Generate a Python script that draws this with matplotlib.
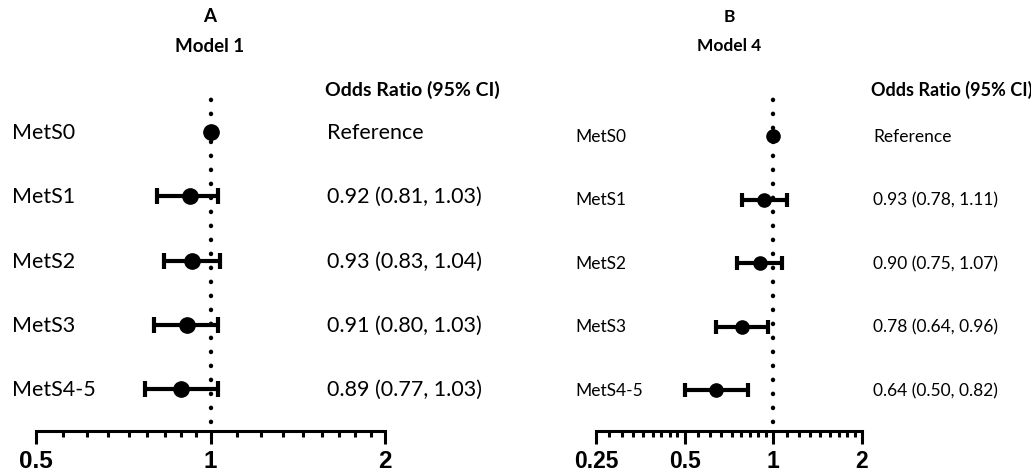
import matplotlib
matplotlib.use("Agg")
import matplotlib.pyplot as plt
import matplotlib.transforms as mtransforms
from matplotlib.ticker import FixedLocator, FixedFormatter, NullFormatter

# ---------------- data ----------------
categories = ["MetS0", "MetS1", "MetS2", "MetS3", "MetS4-5"]

or_a = [1.00, 0.92, 0.93, 0.91, 0.89]
lo_a = [None, 0.81, 0.83, 0.80, 0.77]
hi_a = [None, 1.03, 1.04, 1.03, 1.03]
text_a = ["Reference", "0.92 (0.81, 1.03)", "0.93 (0.83, 1.04)",
          "0.91 (0.80, 1.03)", "0.89 (0.77, 1.03)"]

or_b = [1.00, 0.93, 0.90, 0.78, 0.64]
lo_b = [None, 0.78, 0.75, 0.64, 0.50]
hi_b = [None, 1.11, 1.07, 0.96, 0.82]
text_b = ["Reference", "0.93 (0.78, 1.11)", "0.90 (0.75, 1.07)",
          "0.78 (0.64, 0.96)", "0.64 (0.50, 0.82)"]

ticks_a = [0.5, 1, 2]
ticklabels_a = ["0.5", "1", "2"]
ticks_b = [0.25, 0.5, 1, 2]
ticklabels_b = ["0.25", "0.5", "1", "2"]

header = "Odds Ratio (95% CI)"
title_a = ["A", "Model 1"]
title_b = ["B", "Model 4"]

# ---------------- figure ----------------
W, H = 1031, 477
fig = plt.figure(figsize=(W / 100, H / 100), dpi=100)

TXT = ["Lato", "DejaVu Sans"]
TICKF = ["Liberation Sans", "DejaVu Sans"]


def fx(px):
    return px / W


def fy(py):
    return 1 - py / H


def panel(left_px, right_px, top_px, bottom_px, row0_px, row_step,
          ors, los, his, texts, ticks, ticklabels, titles, title_x,
          lab_x, val_x, fs, hfs, tfs, ms, cap):
    ax = fig.add_axes([fx(left_px), fy(bottom_px),
                       fx(right_px - left_px), (bottom_px - top_px) / H])
    ax.set_xscale("log", base=2)
    ax.set_xlim(ticks[0], ticks[-1])
    ytop = -(row0_px - top_px) / row_step
    ybot = (bottom_px - row0_px) / row_step
    ax.set_ylim(ybot, ytop)
    ypos = list(range(len(categories)))

    # reference dotted line
    ax.axvline(1, ymin=9 / (bottom_px - top_px), ymax=1, color="black",
               lw=3.2, linestyle=(0, (0.05, 3.1)), dash_capstyle="round",
               zorder=1)

    # points & error bars
    for y, o, lo, hi in zip(ypos, ors, los, his):
        if lo is None:
            ax.plot([o], [y], "o", color="black", ms=ms, zorder=3)
        else:
            ax.errorbar([o], [y], xerr=[[o - lo], [hi - o]], fmt="o",
                        color="black", ms=ms, elinewidth=3, capsize=cap,
                        capthick=3, zorder=3)

    # spines / ticks
    for s in ["top", "left", "right"]:
        ax.spines[s].set_visible(False)
    ax.spines["bottom"].set_linewidth(2.2)
    ax.set_yticks([])
    ax.xaxis.set_major_locator(FixedLocator(ticks))
    ax.xaxis.set_major_formatter(FixedFormatter(ticklabels))
    minors = []
    for a, b in zip(ticks[:-1], ticks[1:]):
        minors += [a + (b - a) * k / 9 for k in range(1, 9)]
    ax.xaxis.set_minor_locator(FixedLocator(minors))
    ax.xaxis.set_minor_formatter(NullFormatter())
    ax.tick_params(axis="x", which="major", length=9, width=2.2,
                   pad=4, labelsize=tfs)
    ax.tick_params(axis="x", which="minor", length=4.5, width=2.2)
    for lab in ax.get_xticklabels():
        lab.set_family(TICKF)
        lab.set_fontweight("bold")

    # texts
    tr = mtransforms.blended_transform_factory(fig.transFigure, ax.transData)
    for y, c, t in zip(ypos, categories, texts):
        ax.text(fx(lab_x), y, c, transform=tr, ha="left", va="center",
                fontsize=fs, family=TXT, clip_on=False)
        ax.text(fx(val_x), y, t, transform=tr, ha="left", va="center",
                fontsize=fs, family=TXT, clip_on=False)
    fig.text(fx(val_x - 2), fy(90), header, ha="left", va="center",
             fontsize=hfs, family=TXT, fontweight="bold")
    fig.text(fx(title_x), fy(17), titles[0], ha="center", va="center",
             fontsize=hfs - 0.5, family=TXT, fontweight="bold")
    fig.text(fx(title_x), fy(46), titles[1], ha="center", va="center",
             fontsize=hfs - 0.5, family=TXT, fontweight="bold")
    return ax


panel(36, 385, 96, 432, 133, 64.25, or_a, lo_a, hi_a, text_a,
      ticks_a, ticklabels_a, title_a, 210, 12, 327, 15.5, 14, 17.5, 11, 5.5)
panel(596, 862, 96, 432, 137, 63.5, or_b, lo_b, hi_b, text_b,
      ticks_b, ticklabels_b, title_b, 729, 575, 873, 12.5, 13, 16.5, 9.5, 5)

fig.savefig("out.png", dpi=100)
